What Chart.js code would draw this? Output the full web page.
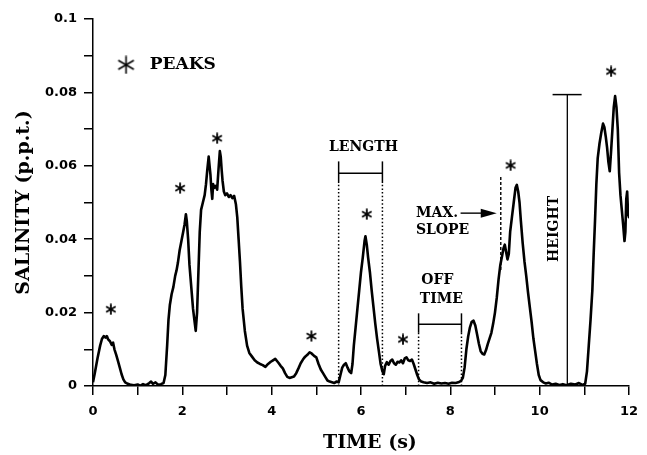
<!DOCTYPE html>
<html>
<head>
<meta charset="utf-8">
<title>Salinity peaks</title>
<script src="https://cdn.jsdelivr.net/npm/chart.js@4.4.0/dist/chart.umd.min.js"></script>
<style>
  html, body { margin: 0; padding: 0; background: #fff; }
</style>
</head>
<body>
<canvas id="chart" width="647" height="455"></canvas>
<script>
// conductivity probe record: time (s) and salinity (p.p.t.)
const timeS = [
  0.00, 0.04, 0.10, 0.16, 0.20, 0.24, 0.28, 0.31, 0.34, 0.38, 0.42, 0.45, 0.48, 0.52, 0.56, 0.60,
  0.64, 0.68, 0.72, 0.78, 0.85, 0.92, 1.00, 1.06, 1.12, 1.18, 1.26, 1.30, 1.34, 1.40, 1.46, 1.52,
  1.58, 1.62, 1.66, 1.69, 1.72, 1.76, 1.80, 1.84, 1.87, 1.90, 1.94, 1.98, 2.02, 2.05, 2.08, 2.10,
  2.13, 2.16, 2.20, 2.24, 2.28, 2.30, 2.33, 2.36, 2.39, 2.42, 2.46, 2.50, 2.53, 2.56, 2.59, 2.61,
  2.63, 2.65, 2.67, 2.69, 2.72, 2.75, 2.78, 2.81, 2.84, 2.86, 2.88, 2.90, 2.93, 2.96, 3.00, 3.04,
  3.08, 3.12, 3.16, 3.20, 3.23, 3.26, 3.29, 3.32, 3.35, 3.40, 3.45, 3.50, 3.56, 3.62, 3.68, 3.74,
  3.80, 3.86, 3.92, 3.98, 4.03, 4.08, 4.12, 4.16, 4.20, 4.25, 4.30, 4.35, 4.40, 4.45, 4.50, 4.55,
  4.60, 4.65, 4.70, 4.75, 4.80, 4.85, 4.90, 4.95, 5.00, 5.05, 5.10, 5.15, 5.20, 5.25, 5.30, 5.35,
  5.40, 5.45, 5.50, 5.54, 5.58, 5.62, 5.66, 5.70, 5.74, 5.78, 5.81, 5.84, 5.88, 5.92, 5.96, 6.00,
  6.04, 6.08, 6.10, 6.13, 6.16, 6.20, 6.24, 6.28, 6.32, 6.36, 6.40, 6.44, 6.48, 6.51, 6.54, 6.58,
  6.62, 6.66, 6.70, 6.74, 6.78, 6.82, 6.86, 6.90, 6.94, 6.98, 7.02, 7.06, 7.10, 7.14, 7.18, 7.22,
  7.26, 7.30, 7.35, 7.40, 7.48, 7.56, 7.64, 7.72, 7.80, 7.88, 7.96, 8.04, 8.12, 8.18, 8.24, 8.28,
  8.32, 8.36, 8.40, 8.44, 8.48, 8.52, 8.56, 8.60, 8.64, 8.68, 8.72, 8.76, 8.80, 8.84, 8.88, 8.92,
  8.96, 9.00, 9.04, 9.08, 9.12, 9.16, 9.19, 9.22, 9.25, 9.28, 9.31, 9.34, 9.38, 9.42, 9.46, 9.49,
  9.52, 9.55, 9.58, 9.62, 9.66, 9.70, 9.74, 9.78, 9.82, 9.86, 9.90, 9.94, 9.98, 10.02, 10.08, 10.14,
  10.20, 10.28, 10.36, 10.44, 10.52, 10.60, 10.70, 10.80, 10.88, 10.96, 11.02, 11.06, 11.10, 11.14, 11.18, 11.21,
  11.24, 11.27, 11.30, 11.34, 11.38, 11.42, 11.45, 11.48, 11.51, 11.54, 11.57, 11.60, 11.63, 11.66, 11.69, 11.72,
  11.75, 11.78, 11.81, 11.84, 11.87, 11.90, 11.92, 11.94, 11.96, 11.98, 12.00
];
const salinity = [
  0.0010, 0.0035, 0.0075, 0.0110, 0.0128, 0.0136, 0.0132, 0.0136, 0.0127, 0.0122, 0.0112, 0.0118, 0.0100, 0.0085, 0.0068, 0.0050,
  0.0032, 0.0018, 0.0010, 0.0006, 0.0003, 0.0002, 0.0004, 0.0001, 0.0005, 0.0002, 0.0008, 0.0012, 0.0006, 0.0010, 0.0003, 0.0005,
  0.0008, 0.0030, 0.0110, 0.0180, 0.0220, 0.0250, 0.0270, 0.0300, 0.0315, 0.0335, 0.0370, 0.0395, 0.0420, 0.0440, 0.0468, 0.0450,
  0.0400, 0.0330, 0.0270, 0.0210, 0.0170, 0.0150, 0.0200, 0.0310, 0.0420, 0.0480, 0.0500, 0.0520, 0.0550, 0.0590, 0.0625, 0.0600,
  0.0575, 0.0535, 0.0510, 0.0550, 0.0540, 0.0545, 0.0535, 0.0590, 0.0640, 0.0625, 0.0590, 0.0560, 0.0530, 0.0520, 0.0525, 0.0515,
  0.0520, 0.0512, 0.0518, 0.0495, 0.0460, 0.0400, 0.0340, 0.0270, 0.0210, 0.0150, 0.0110, 0.0090, 0.0080, 0.0070, 0.0064, 0.0060,
  0.0057, 0.0052, 0.0060, 0.0066, 0.0070, 0.0074, 0.0068, 0.0062, 0.0055, 0.0048, 0.0035, 0.0025, 0.0022, 0.0024, 0.0026, 0.0035,
  0.0048, 0.0062, 0.0072, 0.0080, 0.0085, 0.0092, 0.0088, 0.0082, 0.0078, 0.0060, 0.0045, 0.0035, 0.0025, 0.0015, 0.0012, 0.0010,
  0.0008, 0.0012, 0.0010, 0.0030, 0.0050, 0.0058, 0.0062, 0.0050, 0.0040, 0.0035, 0.0060, 0.0110, 0.0160, 0.0210, 0.0260, 0.0310,
  0.0350, 0.0395, 0.0408, 0.0385, 0.0350, 0.0310, 0.0260, 0.0215, 0.0170, 0.0130, 0.0095, 0.0060, 0.0040, 0.0032, 0.0055, 0.0065,
  0.0058, 0.0068, 0.0072, 0.0062, 0.0058, 0.0066, 0.0064, 0.0070, 0.0062, 0.0075, 0.0078, 0.0070, 0.0068, 0.0072, 0.0060, 0.0045,
  0.0030, 0.0018, 0.0012, 0.0010, 0.0008, 0.0010, 0.0006, 0.0009, 0.0007, 0.0008, 0.0006, 0.0009, 0.0008, 0.0010, 0.0014, 0.0022,
  0.0050, 0.0100, 0.0135, 0.0160, 0.0175, 0.0178, 0.0165, 0.0140, 0.0115, 0.0095, 0.0088, 0.0086, 0.0098, 0.0115, 0.0130, 0.0145,
  0.0170, 0.0200, 0.0240, 0.0290, 0.0330, 0.0355, 0.0375, 0.0385, 0.0365, 0.0345, 0.0360, 0.0420, 0.0460, 0.0500, 0.0540, 0.0548,
  0.0530, 0.0500, 0.0450, 0.0390, 0.0340, 0.0300, 0.0255, 0.0215, 0.0175, 0.0130, 0.0095, 0.0060, 0.0030, 0.0016, 0.0010, 0.0007,
  0.0009, 0.0004, 0.0006, 0.0003, 0.0005, 0.0002, 0.0006, 0.0004, 0.0008, 0.0003, 0.0006, 0.0040, 0.0110, 0.0180, 0.0260, 0.0360,
  0.0450, 0.0550, 0.0620, 0.0660, 0.0690, 0.0715, 0.0705, 0.0680, 0.0650, 0.0610, 0.0585, 0.0640, 0.0700, 0.0760, 0.0790, 0.0760,
  0.0700, 0.0580, 0.0520, 0.0480, 0.0440, 0.0395, 0.0420, 0.0510, 0.0530, 0.0470, 0.0460
];

// asterisks marking the detected peaks
const peakTimes  = [0.40, 1.95, 2.78, 4.89, 6.13, 6.94, 9.35, 11.60];
const peakValues = [0.0209, 0.0539, 0.0675, 0.0136, 0.0468, 0.0127, 0.0601, 0.0857];

const xTickLabels = ['0', '2', '4', '6', '8', '10', '12'];
const yTickLabels = ['0', '0.02', '0.04', '0.06', '0.08', '0.1'];

// definitions sketched on the record
const lengthMarks = [5.50, 6.48];     // start/end of one peak
const offTimeMarks = [7.29, 8.25];    // quiet gap between peaks
const maxSlopeTime = 9.13;
const heightTime = 10.62;
const heightValue = 0.0794;

const serif = '"DejaVu Serif", "Liberation Serif", serif';

function makeAsterisk(size, lw) {
  const c = document.createElement('canvas');
  c.width = size;
  c.height = size;
  const g = c.getContext('2d');
  g.strokeStyle = '#000';
  g.lineWidth = lw;
  g.lineCap = 'butt';
  const r = size / 2 - 0.5;
  [90, 30, 150].forEach(function(deg) {
    const a = deg * Math.PI / 180;
    g.beginPath();
    g.moveTo(size / 2 - r * Math.cos(a), size / 2 - r * Math.sin(a));
    g.lineTo(size / 2 + r * Math.cos(a), size / 2 + r * Math.sin(a));
    g.stroke();
  });
  return c;
}

const peakStar = makeAsterisk(12, 1.8);
const keyStar = makeAsterisk(19, 1.6);

// brackets, arrow, labels and the key, all placed in data units
const markup = {
  id: 'markup',
  afterDatasetsDraw(chart) {
    const ctx = chart.ctx;
    const x = chart.scales.x, y = chart.scales.y;
    const px = t => x.getPixelForValue(t);
    const py = v => y.getPixelForValue(v);

    function seg(t1, v1, t2, v2, dash, w) {
      ctx.save();
      ctx.lineWidth = w;
      ctx.setLineDash(dash);
      ctx.beginPath();
      ctx.moveTo(px(t1), py(v1));
      ctx.lineTo(px(t2), py(v2));
      ctx.stroke();
      ctx.restore();
    }
    function bracket(marks, solidFrom, top, bar) {
      marks.forEach(function(t) {
        seg(t, 0, t, solidFrom, [1.5, 2.2], 1.5);
        seg(t, solidFrom, t, top, [], 1.5);
      });
      seg(marks[0], bar, marks[1], bar, [], 1.5);
    }
    function label(text, t, v, size) {
      ctx.font = 'bold ' + size + 'px ' + serif;
      ctx.fillText(text, px(t), py(v));
    }

    ctx.save();
    ctx.strokeStyle = '#000';
    ctx.fillStyle = '#000';
    ctx.textBaseline = 'middle';

    bracket(lengthMarks, 0.0553, 0.0612, 0.0580);
    bracket(offTimeMarks, 0.0145, 0.0198, 0.0168);

    // dashed tangent line at the steepest rise
    seg(maxSlopeTime, 0.0316, maxSlopeTime, 0.0571, [3, 2], 1.4);

    // height bar with its cap
    seg(heightTime, 0, heightTime, heightValue, [], 1.3);
    seg(10.29, heightValue, 10.94, heightValue, [], 1.5);

    // arrow pointing at the slope line
    const ay = py(0.0471);
    const tip = px(9.04);
    ctx.lineWidth = 1.4;
    ctx.beginPath();
    ctx.moveTo(px(8.23), ay);
    ctx.lineTo(tip - 14, ay);
    ctx.stroke();
    ctx.beginPath();
    ctx.moveTo(tip - 16, ay - 4.5);
    ctx.lineTo(tip, ay);
    ctx.lineTo(tip - 16, ay + 4.5);
    ctx.closePath();
    ctx.fill();

    ctx.textAlign = 'center';
    label('LENGTH', 6.055, 0.0649, 14);
    label('OFF', 7.71, 0.0289, 14);
    label('TIME', 7.80, 0.0235, 14);
    ctx.textAlign = 'left';
    label('MAX.', 7.23, 0.0471, 14);
    label('SLOPE', 7.23, 0.0423, 14);

    ctx.save();
    ctx.translate(px(10.32), py(0.0428));
    ctx.rotate(-Math.PI / 2);
    ctx.textAlign = 'center';
    ctx.font = 'bold 14px ' + serif;
    ctx.fillText('HEIGHT', 0, 0);
    ctx.restore();

    // x-axis title, set a little right of centre
    ctx.textAlign = 'center';
    ctx.font = 'bold 19px ' + serif;
    ctx.fillText('TIME (s)', px(6.2), x.bottom - 12);

    // key
    ctx.drawImage(keyStar, px(0.74) - keyStar.width / 2, py(0.0875) - keyStar.height / 2);
    ctx.textAlign = 'left';
    label('PEAKS', 1.27, 0.0875, 17);
    ctx.restore();
  }
};

function tickText(labels) {
  return function(value) {
    const s = String(Math.round(value * 100) / 100);
    return labels.indexOf(s) >= 0 ? s : '';
  };
}

const tickFont = { family: '"DejaVu Sans", sans-serif', size: 13, weight: 'bold' };
const titleFont = { family: serif, size: 19, weight: 'bold' };

new Chart(document.getElementById('chart'), {
  type: 'line',
  data: {
    datasets: [{
      label: 'Salinity',
      data: timeS.map((t, i) => ({ x: t, y: salinity[i] })),
      borderColor: '#000',
      borderWidth: 2.6,
      borderJoinStyle: 'round',
      pointRadius: 0,
      tension: 0,
      fill: false
    }, {
      label: 'PEAKS',
      data: peakTimes.map((t, i) => ({ x: t, y: peakValues[i] })),
      showLine: false,
      pointStyle: peakStar,
      pointRadius: 5,
      borderColor: '#000',
      backgroundColor: '#000'
    }]
  },
  options: {
    responsive: false,
    animation: false,
    layout: { padding: { left: 0, top: 19, right: 11, bottom: 0 } },
    plugins: { legend: { display: false }, tooltip: { enabled: false } },
    scales: {
      x: {
        type: 'linear',
        min: 0,
        max: 12,
        afterFit(scale) { scale.height = 69; },
        ticks: { stepSize: 1, autoSkip: false, maxRotation: 0, padding: 9, color: '#000', font: tickFont,
                 callback: tickText(xTickLabels) },
        grid: { drawOnChartArea: false, drawTicks: true, tickLength: 9, color: '#000', lineWidth: 1.5 },
        border: { color: '#000', width: 1.5 },
        title: { display: false }
      },
      y: {
        min: 0,
        max: 0.1,
        afterFit(scale) { scale.width = 93; },
        ticks: { stepSize: 0.01, autoSkip: false, padding: 7, color: '#000', font: tickFont,
                 callback: tickText(yTickLabels) },
        grid: { drawOnChartArea: false, drawTicks: true, tickLength: 9, color: '#000', lineWidth: 1.5 },
        border: { color: '#000', width: 1.5 },
        title: { display: true, text: 'SALINITY (p.p.t.)', color: '#000', font: titleFont, padding: { top: 13, bottom: 0 } }
      }
    }
  },
  plugins: [markup]
});
</script>
</body>
</html>
